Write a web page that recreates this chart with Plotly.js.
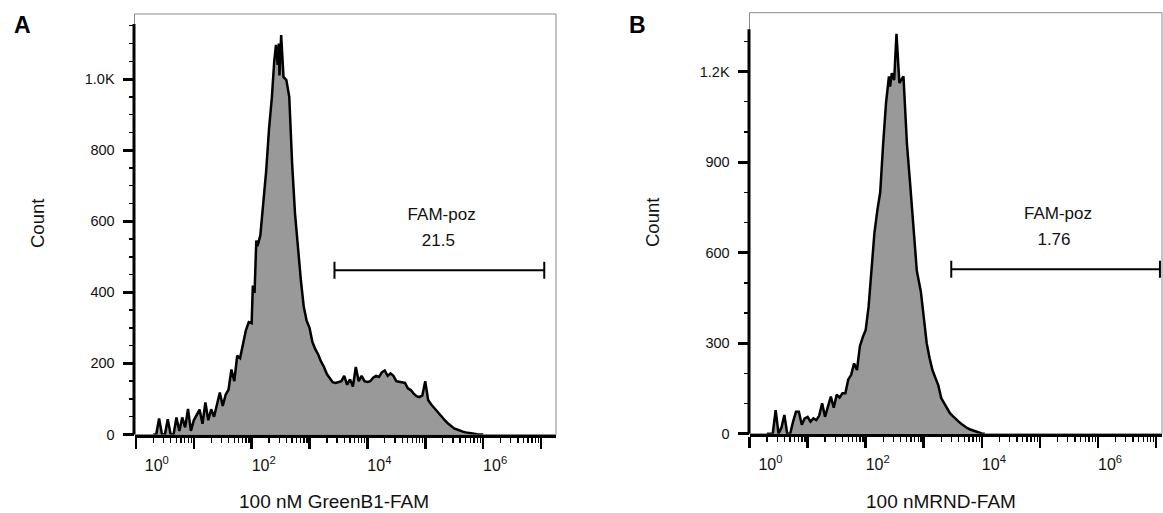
<!DOCTYPE html>
<html><head><meta charset="utf-8">
<script src="https://cdn.plot.ly/plotly-3.0.1.min.js"></script>
<style>html,body{margin:0;padding:0;background:#fff;}#chart{width:1163px;height:513px;}</style>
</head><body><div id="chart"></div>
<script>
// Panel A: 100 nM GreenB1-FAM  (bin centres in log10 units, counts per bin)
const binLogA = [0.30,0.35,0.40,0.45,0.50,0.55,0.60,0.65,0.70,0.75,0.80,0.85,0.90,0.95,1.00,1.05,1.10,1.15,1.20,1.25,1.30,1.35,1.40,1.45,1.50,1.55,1.60,1.65,1.70,1.75,1.80,1.85,1.90,1.95,2.00,2.02,2.05,2.08,2.10,2.15,2.20,2.25,2.30,2.35,2.39,2.42,2.45,2.47,2.48,2.51,2.55,2.60,2.65,2.70,2.75,2.80,2.85,2.90,2.95,3.00,3.05,3.10,3.15,3.20,3.25,3.30,3.35,3.40,3.45,3.50,3.55,3.60,3.65,3.70,3.75,3.80,3.85,3.90,3.95,4.00,4.05,4.10,4.15,4.20,4.25,4.30,4.35,4.40,4.45,4.50,4.55,4.60,4.65,4.70,4.75,4.80,4.85,4.90,4.95,5.00,5.05,5.10,5.15,5.20,5.25,5.30,5.35,5.40,5.45,5.50,5.55,5.60,5.65,5.70,5.75,5.80,5.85,5.90,5.95,6.00];
const countA  = [0,0,45,0,0,43,0,0,48,10,48,20,72,10,40,56,70,30,90,40,71,50,80,118,80,112,126,183,150,222,215,250,293,316,313,419,398,546,530,560,640,740,860,950,1050,1096,1040,1100,1010,1124,1006,997,950,760,620,520,435,360,320,300,260,240,225,205,190,170,160,147,145,148,150,165,140,155,135,190,150,165,150,148,150,160,165,162,175,180,165,172,165,150,148,145,145,130,125,115,108,105,110,150,97,85,75,65,55,48,38,30,24,17,14,10,8,6,4,3,2,1,0,0];
// Panel B: 100 nMRND-FAM
const binLogB = [0.30,0.35,0.40,0.45,0.50,0.55,0.60,0.65,0.70,0.75,0.80,0.85,0.90,0.95,1.00,1.05,1.10,1.15,1.20,1.25,1.30,1.35,1.40,1.45,1.50,1.55,1.60,1.65,1.70,1.75,1.80,1.85,1.90,1.95,2.00,2.05,2.10,2.15,2.20,2.25,2.30,2.35,2.40,2.42,2.45,2.49,2.53,2.58,2.65,2.71,2.76,2.82,2.88,2.95,3.00,3.05,3.10,3.15,3.20,3.25,3.30,3.35,3.40,3.45,3.50,3.55,3.60,3.65,3.70,3.75,3.80,3.85,3.90,3.95,4.00,4.05];
const countB  = [0,0,0,78,0,20,62,0,0,40,73,73,30,51,56,40,51,45,60,101,56,90,123,86,129,120,134,134,180,195,233,211,290,320,344,421,560,665,740,800,960,1096,1184,1150,1195,1172,1325,1162,1184,960,840,690,540,470,380,300,250,210,185,160,118,100,82,68,58,48,40,32,24,18,14,10,7,4,1,0];

const xTickExp  = [0,1,2,3,4,5,6,7];
const xTickText = ['&nbsp;&nbsp;&nbsp;&nbsp;10<sup>0</sup>','','10<sup>2</sup>','','10<sup>4</sup>','','10<sup>6</sup>',''];
const yTickValsA = [0,200,400,600,800,1000];
const yTickTextA = ['0','200','400','600','800','1.0K'];
const yTickValsB = [0,300,600,900,1200];
const yTickTextB = ['0','300','600','900','1.2K'];
const yLineTopA = 1155, yLineTopB = 1340;

const gateXA = [2700, 11400000], gateYA = 462, gateLabelA = ['FAM-poz','21.5'];
const gateXB = [2970, 11600000], gateYB = 545, gateLabelB = ['FAM-poz','1.76'];
const gateTextXA = [192000, 169000], gateTextYA = [616, 543];
const gateTextXB = [204000, 174000], gateTextYB = [725, 639];

const xTitleA = '100 nM GreenB1-FAM', xTitleB = '100 nMRND-FAM', yTitle = 'Count';

const FONT = 'Liberation Sans, Arial, Helvetica, sans-serif';
const W = 1163, H = 513;
const pw = v => Math.pow(10, v);

function hist(binLog, counts, xa, ya) {
  return {type:'scatter', mode:'lines', x: binLog.map(pw), y: counts, xaxis: xa, yaxis: ya,
    fill:'tozeroy', fillcolor:'rgb(153,153,153)', line:{color:'#000', width:2.5, shape:'linear'},
    hoverinfo:'skip', cliponaxis:true};
}
function gate(gx, gy, capH, xa, ya) {
  return {type:'scatter', mode:'lines', xaxis: xa, yaxis: ya, hoverinfo:'skip',
    x:[gx[0], gx[1], null, gx[0], gx[0], null, gx[1], gx[1]],
    y:[gy, gy, null, gy-capH, gy+capH, null, gy-capH, gy+capH],
    line:{color:'#000', width:2}};
}
function gateText(tx, ty, labels, xa, ya) {
  return {type:'scatter', mode:'text', xaxis: xa, yaxis: ya, x: tx, y: ty, text: labels,
    textposition:'middle center', textfont:{family:FONT, size:17, color:'#111'}, hoverinfo:'skip', cliponaxis:false};
}

const data = [
  hist(binLogA, countA, 'x', 'y'),
  hist(binLogB, countB, 'x2', 'y2'),
  gate(gateXA, gateYA, 24, 'x', 'y'),
  gate(gateXB, gateYB, 28, 'x2', 'y2'),
  gateText(gateTextXA, gateTextYA, gateLabelA, 'x', 'y'),
  gateText(gateTextXB, gateTextYB, gateLabelB, 'x2', 'y2')
];

function xAxis(dom, range, anchor) {
  return {type:'log', domain: dom, range: range, anchor: anchor, showgrid:false, zeroline:false,
    showline:true, linecolor:'#000', linewidth:3,
    ticks:'outside', ticklen:11, tickwidth:2.6, tickcolor:'#000',
    tickmode:'array', tickvals: xTickExp.map(pw), ticktext: xTickText,
    tickfont:{family:FONT, size:16, color:'#111'}, ticklabelshift:12, ticklabelstandoff:3,
    minor:{ticks:'outside', ticklen:5, tickwidth:1.3, tickcolor:'#000', tickmode:'linear', dtick:'D1', showgrid:false},
    fixedrange:true};
}
function yAxis(dom, range, anchor, tv, tt, minorStep) {
  return {domain: dom, range: range, anchor: anchor, showgrid:false, zeroline:false,
    showline:false,
    ticks:'outside', ticklen:11, tickwidth:3, tickcolor:'#000',
    tickmode:'array', tickvals: tv, ticktext: tt,
    tickfont:{family:FONT, size:14.5, color:'#111'}, ticklabelstandoff:5,
    minor:{ticks:'outside', ticklen:5, tickwidth:1.5, tickcolor:'#000', tickmode:'linear', tick0:0, dtick:minorStep, showgrid:false},
    fixedrange:true};
}

const xA0 = 134.5, xB0 = 749.5;
const layout = {
  width:W, height:H, margin:{l:0,r:0,t:0,b:0}, showlegend:false,
  paper_bgcolor:'#fff', plot_bgcolor:'#fff', font:{family:FONT, color:'#111'},
  xaxis:  xAxis([xA0/W, 556/W], [-0.025, 7.26], 'y'),
  yaxis:  yAxis([(H-434.5)/H, (H-14)/H], [0, 1183], 'x', yTickValsA, yTickTextA, 50),
  xaxis2: xAxis([xB0/W, 1162/W], [0, 7.1], 'y2'),
  yaxis2: yAxis([(H-433.7)/H, (H-12.7)/H], [0, 1395], 'x2', yTickValsB, yTickTextB, 100),
  shapes: [
    {type:'rect', xref:'paper', yref:'paper', x0:xA0/W, x1:556/W, y0:(H-434.5)/H, y1:(H-14)/H, line:{color:'#8a8a8a', width:1}, layer:'below'},
    {type:'rect', xref:'paper', yref:'paper', x0:xB0/W, x1:1162/W, y0:(H-433.7)/H, y1:(H-12.7)/H, line:{color:'#8a8a8a', width:1}, layer:'below'},
    {type:'rect', xref:'paper', yref:'y', x0:(xA0-2)/W, x1:(xA0+1)/W, y0:0, y1:yLineTopA, fillcolor:'#000', line:{width:0}, layer:'above'},
    {type:'rect', xref:'paper', yref:'y2', x0:(xB0-2)/W, x1:(xB0+1)/W, y0:0, y1:yLineTopB, fillcolor:'#000', line:{width:0}, layer:'above'}
  ],
  annotations: [
    {text:'<b>A</b>', xref:'paper', yref:'paper', x:12/W, y:(H-25)/H, xanchor:'left', yanchor:'middle', showarrow:false, font:{family:FONT, size:23, color:'#000'}},
    {text:'<b>B</b>', xref:'paper', yref:'paper', x:627/W, y:(H-25)/H, xanchor:'left', yanchor:'middle', showarrow:false, font:{family:FONT, size:23, color:'#000'}},
    {text:yTitle, xref:'paper', yref:'paper', x:37/W, y:(H-224)/H, textangle:-90, xanchor:'center', yanchor:'middle', showarrow:false, font:{family:FONT, size:18.5, color:'#111'}},
    {text:yTitle, xref:'paper', yref:'paper', x:652/W, y:(H-223)/H, textangle:-90, xanchor:'center', yanchor:'middle', showarrow:false, font:{family:FONT, size:18.5, color:'#111'}},
    {text:xTitleA, xref:'paper', yref:'paper', x:334/W, y:(H-501)/H, xanchor:'center', yanchor:'middle', showarrow:false, font:{family:FONT, size:19, color:'#111'}},
    {text:xTitleB, xref:'paper', yref:'paper', x:941/W, y:(H-501)/H, xanchor:'center', yanchor:'middle', showarrow:false, font:{family:FONT, size:19, color:'#111'}}
  ]
};

Plotly.newPlot('chart', data, layout, {displayModeBar:false, staticPlot:true});
</script></body></html>
